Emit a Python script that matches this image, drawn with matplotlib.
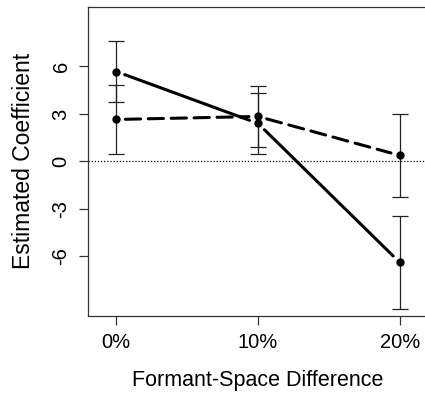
import matplotlib
matplotlib.use("Agg")
import matplotlib.pyplot as plt

plt.rcParams['font.family'] = ['Liberation Sans', 'DejaVu Sans']

# --- data ---
x_labels = ["0%", "10%", "20%"]
x_pos = [1, 2, 3]
solid_est = [5.68, 2.40, -6.38]
solid_err = [1.95, 1.94, 2.95]
dashed_est = [2.65, 2.84, 0.38]
dashed_err = [2.20, 1.94, 2.63]
y_ticks = [-6, -3, 0, 3, 6]


def gapped_line(ax, xs, ys, ls):
    # R type="b": segments stop short of the points
    for i in range(len(xs) - 1):
        ax.annotate("", xy=(xs[i + 1], ys[i + 1]), xytext=(xs[i], ys[i]),
                    arrowprops=dict(arrowstyle="-", shrinkA=6.5, shrinkB=6.5,
                                    lw=2.2, linestyle=ls, color="black"))


fig = plt.figure(figsize=(4.25, 3.97), dpi=100)
ax = fig.add_axes([0.207, 0.205, 0.80, 0.777])

ax.axhline(0, color="black", lw=0.9, ls=(0, (1, 1.5)))

for est, err in [(solid_est, solid_err), (dashed_est, dashed_err)]:
    ax.errorbar(x_pos, est, yerr=err, fmt="o", color="black", ms=5,
                ecolor="#222222", elinewidth=0.9, capsize=5.5, capthick=0.9)

gapped_line(ax, x_pos, solid_est, "-")
gapped_line(ax, x_pos, dashed_est, (0, (5, 2.5)))

ax.set_xlim(0.8, 3.2)
ax.set_ylim(-9.75, 9.75)
ax.set_xticks(x_pos)
ax.set_xticklabels(x_labels)
ax.set_yticks(y_ticks)
ax.set_yticklabels([str(t) for t in y_ticks], rotation=90, va="center")
ax.tick_params(direction="out", length=6.5, width=0.9, labelsize=14.5,
               color="#333333", pad=6)
for s in ax.spines.values():
    s.set_color("#333333")
    s.set_linewidth(0.9)

ax.set_xlabel("Formant-Space Difference", fontsize=15.5, labelpad=13)
ax.set_ylabel("Estimated Coefficient", fontsize=16.5, labelpad=12)

fig.savefig("out.png", dpi=100)
